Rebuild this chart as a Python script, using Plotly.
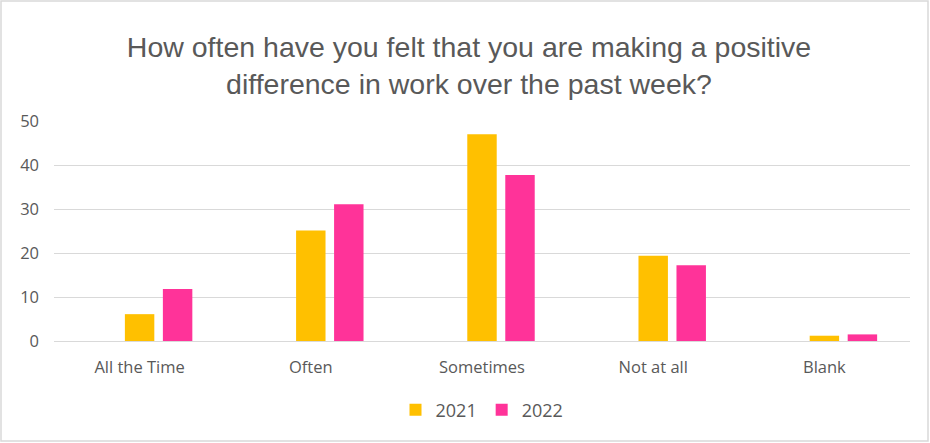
import plotly.graph_objects as go

categories = ["All the Time", "Often", "Sometimes", "Not at all", "Blank"]
values_2021 = [6.1, 25.1, 47.0, 19.4, 1.2]
values_2022 = [11.8, 31.1, 37.7, 17.2, 1.5]
y_ticks = [0, 10, 20, 30, 40, 50]

COLOR_2021 = "#FFC000"
COLOR_2022 = "#FF3399"
TEXT = "#595959"
GRID = "#D9D9D9"

BAR_W = 0.172
fig = go.Figure()
fig.add_trace(go.Bar(x=categories, y=values_2021, name="2021",
                     marker=dict(color=COLOR_2021, line=dict(width=0)),
                     width=BAR_W, offset=-BAR_W / 2))
fig.add_trace(go.Bar(x=categories, y=values_2022, name="2022",
                     marker=dict(color=COLOR_2022, line=dict(width=0)),
                     width=BAR_W, offset=-BAR_W / 2 + 0.222))

# plot area geometry in pixels, used for the outer chart frame
L, R, T, B = 54, 20, 121, 102
W, H = 930, 443
pw, ph = W - L - R, H - T - B
def px_x(p): return (p - L) / pw
def px_y(p): return (H - B - p) / ph

fig.add_shape(type="rect", xref="paper", yref="paper",
              x0=px_x(1), x1=px_x(928), y0=px_y(441), y1=px_y(1),
              line=dict(color=GRID, width=1.5), layer="below")

fig.update_layout(
    width=W, height=H,
    margin=dict(l=L, r=R, t=T, b=B),
    paper_bgcolor="white", plot_bgcolor="white",
    barmode="overlay",
    title=dict(
        text="How often have you felt that you are making a positive<br>difference in work over the past week?",
        x=469 / W, xref="container", xanchor="center",
        y=1 - 57 / H, yref="container", yanchor="middle",
        font=dict(family="Liberation Sans, Arial, sans-serif", size=28.5, color=TEXT),
    ),
    font=dict(family="Open Sans, sans-serif", color=TEXT),
    xaxis=dict(showgrid=False, showline=False, ticks="",
               tickfont=dict(size=16.5, color=TEXT), range=[-0.5, 4.5],
               ticklabelstandoff=14),
    yaxis=dict(range=[0, 50], tickvals=y_ticks, showgrid=True, gridcolor=GRID,
               gridwidth=1.3, zeroline=True, zerolinecolor=GRID, zerolinewidth=1.3,
               showline=False, ticks="", ticklabelstandoff=14,
               tickfont=dict(size=16.5, color=TEXT)),
    legend=dict(orientation="h", x=0.5, xanchor="center", y=px_y(410), yanchor="middle",
                font=dict(size=18, color=TEXT), itemwidth=30, traceorder="normal"),
    showlegend=True,
)

fig.write_html("out.html")
